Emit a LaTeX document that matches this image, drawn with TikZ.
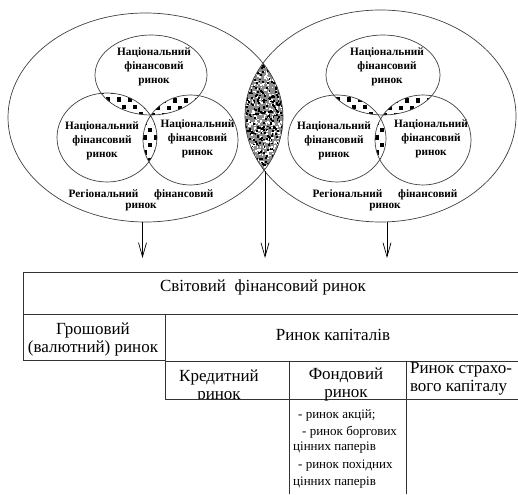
\documentclass[tikz,border=0pt]{standalone}
\usepackage{fontspec}
\setmainfont{Liberation Serif}
\usetikzlibrary{arrows.meta,shapes.geometric}
\newcommand\sqgrid[2]{%
  \foreach \j in {0,...,12}{\foreach \i in {0,...,8}{%
    \pgfmathsetmacro\px{#1+11*\i+5.5*mod(\j,2)}%
    \pgfmathsetmacro\py{#2+7.5*\j}%
    \fill (\px,\py) rectangle ++(4.4,4.4);}}}
\begin{document}
\begin{tikzpicture}[x=1pt,y=-1pt,
 bigell/.style={ellipse,draw=black!75,line width=0.7pt,inner sep=0pt},
 smell/.style={ellipse,draw=black!75,line width=0.7pt,inner sep=0pt},
 lab/.style={font=\fontsize{11.3}{14}\selectfont\bfseries,align=center,inner sep=0pt},
 reglab/.style={font=\fontsize{11.3}{11.5}\selectfont\bfseries,align=center,inner sep=0pt},
 arr/.style={draw=black,line width=0.7pt,-{Straight Barb[length=14pt,width=8pt]}},
 tline/.style={draw=black!80,line width=0.8pt},
 bigtext/.style={font=\fontsize{17}{18}\selectfont,align=center,inner sep=0pt},
 listtext/.style={font=\fontsize{13}{15.5}\selectfont,anchor=west,inner sep=0pt},
]
\useasboundingbox (0,0) rectangle (518,494);
% central lens (intersection of the two big ellipses)
\begin{scope}
\clip (145.5,117.5) ellipse [x radius=137.5pt, y radius=104.5pt];
\clip (380.5,116) ellipse [x radius=135.5pt, y radius=106pt];
\fill[black!45] (240,55) rectangle (290,180);
\pgfmathsetseed{7}
\foreach \k in {1,...,480}{%
  \pgfmathsetmacro\px{264+20*rand}%
  \pgfmathsetmacro\py{117+56*rand}%
  \fill[white] (\px,\py) rectangle ++(1.6,1.6);}
\foreach \k in {1,...,380}{%
  \pgfmathsetmacro\px{264+20*rand}%
  \pgfmathsetmacro\py{117+56*rand}%
  \fill[black] (\px,\py) rectangle ++(1.8,1.8);}
\end{scope}
% chequered intersections, left group
\begin{scope}
\clip (151,75) ellipse [x radius=56pt, y radius=40pt];
\clip (107,137.5) ellipse [x radius=50pt, y radius=44.5pt];
\sqgrid{100}{90}
\end{scope}
\begin{scope}
\clip (151,75) ellipse [x radius=56pt, y radius=40pt];
\clip (190.5,140) ellipse [x radius=47.5pt, y radius=45pt];
\sqgrid{145}{91}
\end{scope}
\begin{scope}
\clip (107,137.5) ellipse [x radius=50pt, y radius=44.5pt];
\clip (190.5,140) ellipse [x radius=47.5pt, y radius=45pt];
\sqgrid{137}{98}
\end{scope}
% chequered intersections, right group
\begin{scope}
\clip (383,75) ellipse [x radius=57pt, y radius=40pt];
\clip (337,138.5) ellipse [x radius=49pt, y radius=43.5pt];
\sqgrid{330}{90}
\end{scope}
\begin{scope}
\clip (383,75) ellipse [x radius=57pt, y radius=40pt];
\clip (423,140) ellipse [x radius=48pt, y radius=45pt];
\sqgrid{377}{91}
\end{scope}
\begin{scope}
\clip (337,138.5) ellipse [x radius=49pt, y radius=43.5pt];
\clip (423,140) ellipse [x radius=48pt, y radius=45pt];
\sqgrid{369}{98}
\end{scope}
% big ellipses
\node[bigell,minimum width=275pt,minimum height=209pt] (LB) at (145.5,117.5) {};
\node[bigell,minimum width=271pt,minimum height=212pt] (RB) at (380.5,116) {};
% small ellipses
\node[smell,minimum width=112pt,minimum height=80pt] (T1) at (151,75) {};
\node[smell,minimum width=100pt,minimum height=89pt] (L1) at (107,137.5) {};
\node[smell,minimum width=95pt,minimum height=90pt] (R1) at (190.5,140) {};
\node[smell,minimum width=114pt,minimum height=80pt] (T2) at (383,75) {};
\node[smell,minimum width=98pt,minimum height=87pt] (L2) at (337,138.5) {};
\node[smell,minimum width=96pt,minimum height=90pt] (R2) at (423,140) {};
% labels
\node[lab] (T1t) at (154,67) {Національний\\фінансовий\\ринок};
\node[lab] (L1t) at (102,141) {Національний\\фінансовий\\ринок};
\node[lab] (R1t) at (197.5,139) {Національний\\фінансовий\\ринок};
\node[lab] (T2t) at (387,67) {Національний\\фінансовий\\ринок};
\node[lab] (L2t) at (334,141) {Національний\\фінансовий\\ринок};
\node[lab] (R2t) at (431,139) {Національний\\фінансовий\\ринок};
\node[reglab] (G1t) at (141,200.5) {Регіональний\hspace{1.4em}фінансовий\\ринок};
\node[reglab] (G2t) at (385,200.5) {Регіональний\hspace{1.4em}фінансовий\\ринок};
% arrows
\coordinate (a1) at (142.5,258);
\coordinate (a2) at (265,258);
\coordinate (a3) at (387,258);
\coordinate (lensbot) at (265,171);
\draw[arr] (a1 |- LB.south) -- (a1);
\draw[arr] (lensbot) -- (a2);
\draw[arr] (a3 |- RB.south) -- (a3);
% table
\draw[tline] (23,272) -- (518,272);
\draw[tline] (23,314) -- (518,314);
\draw[tline] (23,272) -- (23,360) -- (165,360);
\draw[tline] (165,314) -- (165,399);
\draw[tline] (165,361) -- (518,361);
\draw[tline] (289,361) -- (289,494);
\draw[tline] (406,361) -- (406,494);
\node[bigtext] (wfm) at (263,287) {Світовий\ \ фінансовий ринок};
\node[bigtext] (money) at (93,339) {Грошовий\\(валютний) ринок};
\node[bigtext] (cap) at (333,335) {Ринок капіталів};
\begin{scope}
\clip (165,361) rectangle (289,399);
\node[bigtext] (cred) at (219,386) {Кредитний\\ринок};
\end{scope}
\draw[tline] (165,399) -- (518,399);
\node[bigtext] (fond) at (346,384) {Фондовий\\ринок};
\node[bigtext,align=left] (ins) at (461,379) {Ринок страхо-\\вого капіталу};
\node[listtext] (l1) at (298,415) {- ринок акцій;};
\node[listtext] (l2) at (302,432) {- ринок боргових};
\node[listtext] (l3) at (293,448) {цінних паперів};
\node[listtext] (l4) at (298,466) {- ринок похідних};
\node[listtext] (l5) at (293,483) {цінних паперів};
\end{tikzpicture}
\end{document}
